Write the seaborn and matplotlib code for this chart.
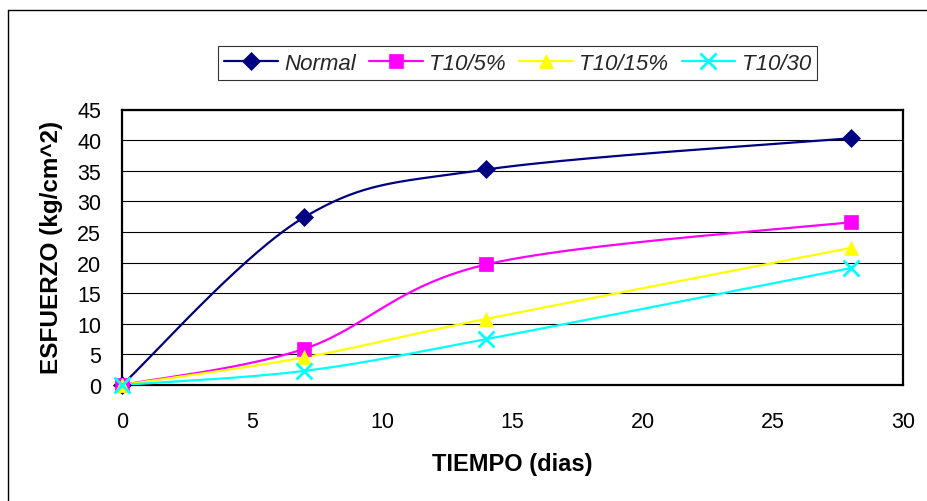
import numpy as np
import pandas as pd
import matplotlib
matplotlib.use("Agg")
import matplotlib.pyplot as plt
from matplotlib.lines import Line2D
import seaborn as sns

# ---- data ----
dias = [0, 7, 14, 28]
series_names = ["Normal", "T10/5%", "T10/15%", "T10/30"]
normal = [0.0, 27.4, 35.2, 40.3]
t10_5 = [0.0, 5.9, 19.7, 26.6]
t10_15 = [0.0, 4.5, 10.8, 22.4]
t10_30 = [0.0, 2.3, 7.5, 19.1]
x_ticks = [0, 5, 10, 15, 20, 25, 30]
y_ticks = [0, 5, 10, 15, 20, 25, 30, 35, 40, 45]

colors = ["#000080", "#FF00FF", "#FFFF00", "#00FFFF"]
markers = ["D", "s", "^", "x"]
msizes = [9.5, 10.5, 10.5, 12]

sns.set_theme(style="white")
plt.rcParams["font.family"] = ["Liberation Sans", "DejaVu Sans"]


def smooth(xs, ys, n=60):
    """Excel-like smoothed line: cubic Bezier with Catmull-Rom control points."""
    P = np.column_stack([xs, ys]).astype(float)
    m = len(P)
    out = []
    for i in range(m - 1):
        p0 = P[i - 1] if i > 0 else P[i]
        p1 = P[i]
        p2 = P[i + 1]
        p3 = P[i + 2] if i + 2 < m else P[i + 1]
        c1 = p1 + (p2 - p0) / 6.0
        c2 = p2 - (p3 - p1) / 6.0
        t = np.linspace(0, 1, n)[:, None]
        seg = ((1 - t) ** 3) * p1 + 3 * ((1 - t) ** 2) * t * c1 + 3 * (1 - t) * t ** 2 * c2 + t ** 3 * p2
        if i > 0:
            seg = seg[1:]
        out.append(seg)
    out = np.vstack(out)
    return out[:, 0], out[:, 1]


W, H = 928, 502
fig = plt.figure(figsize=(W / 100, H / 100), dpi=100)
fig.patch.set_facecolor("white")

L, R, T, B = 122, 903, 110.5, 386
ax = fig.add_axes([L / W, 1 - B / H, (R - L) / W, (B - T) / H])
ax.set_facecolor("white")

all_series = [normal, t10_5, t10_15, t10_30]
handles = []
for name, vals, c, mk, ms in zip(series_names, all_series, colors, markers, msizes):
    sx, sy = smooth(dias, vals)
    df = pd.DataFrame({"x": sx, "y": sy})
    sns.lineplot(data=df, x="x", y="y", sort=False, estimator=None, color=c,
                 lw=1.6, ax=ax, zorder=3)
    mew = 2.0 if mk == "x" else 0.5
    ax.plot(dias, vals, linestyle="none", marker=mk, color=c, ms=ms, mew=mew,
            mec=c, zorder=4, clip_on=False)
    handles.append(Line2D([0], [0], color=c, lw=1.6, marker=mk, ms=ms, mew=mew, mec=c, label=name))

ax.set_xlim(0, 30)
ax.set_ylim(0, 45)
ax.set_xticks(x_ticks)
ax.set_yticks(y_ticks)
ax.set_xticklabels([str(v) for v in x_ticks])
ax.set_yticklabels([str(v) for v in y_ticks])
ax.grid(axis="y", color="black", lw=0.8)
ax.grid(axis="x", visible=False)
ax.set_axisbelow(True)
for s in ax.spines.values():
    s.set_visible(True)
    s.set_color("black")
    s.set_linewidth(1.6)
ax.tick_params(axis="both", which="major", direction="out", length=6, width=1,
               color="black", labelsize=15.5, labelcolor="black")
ax.tick_params(axis="x", pad=13)
ax.tick_params(axis="y", pad=9)

ax.set_xlabel("TIEMPO (dias)", fontsize=17, fontweight="bold", color="black")
ax.set_ylabel("ESFUERZO (kg/cm^2)", fontsize=17.5, fontweight="bold", color="black")
ax.xaxis.set_label_coords(0.5, -0.245)
ax.yaxis.set_label_coords(-0.076, 0.502)

leg = fig.legend(handles=handles, loc="center", ncol=4,
                 bbox_to_anchor=((218 + 817) / 2 / W, 1 - 64 / H),
                 frameon=True, fancybox=False, shadow=False, handlelength=2.4,
                 columnspacing=0.6, handletextpad=0.3, borderpad=0.3,
                 borderaxespad=0.0,
                 prop={"style": "italic", "size": 16})
leg.get_frame().set_edgecolor("black")
leg.get_frame().set_linewidth(0.8)

# outer chart-area border (left and top visible)
fig.add_artist(Line2D([8.5 / W, 8.5 / W], [0, 1 - 11 / H], color="black", lw=1.0,
                      transform=fig.transFigure))
fig.add_artist(Line2D([8.5 / W, 1], [1 - 11 / H, 1 - 11 / H], color="black", lw=1.0,
                      transform=fig.transFigure))

fig.savefig("out.png", dpi=100, facecolor="white")
